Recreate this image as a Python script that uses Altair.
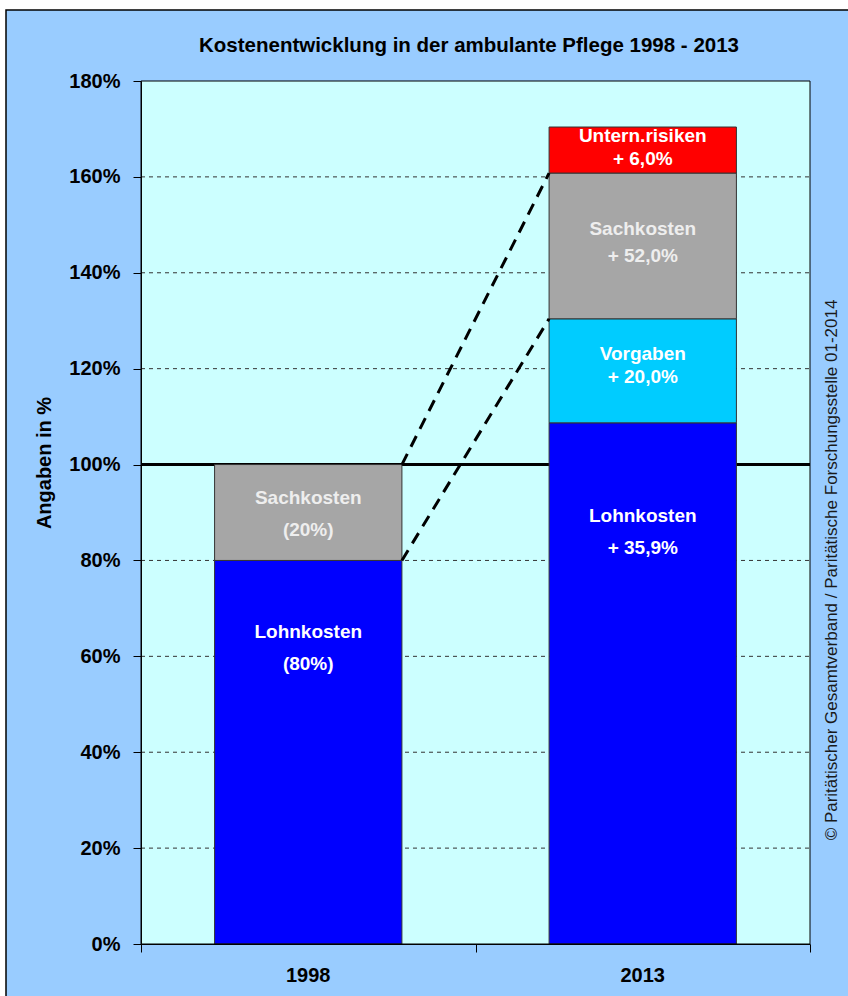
import altair as alt
import pandas as pd

# ---- data ---------------------------------------------------------------
years = ["1998", "2013"]

seg_year = ["1998", "1998", "2013", "2013", "2013", "2013"]
seg_name = ["Lohnkosten", "Sachkosten", "Lohnkosten", "Vorgaben", "Sachkosten", "Untern.risiken"]
seg_value = [80.0, 20.0, 108.7, 21.7, 30.4, 9.6]
seg_text = [
    "Lohnkosten\n(80%)",
    "Sachkosten\n(20%)",
    "Lohnkosten\n+ 35,9%",
    "Vorgaben\n+ 20,0%",
    "Sachkosten\n+ 52,0%",
    "Untern.risiken\n+ 6,0%",
]
# vertical anchor of the first text line of each box (in % units)
label_at = [65.1, 93.0, 89.3, 123.1, 149.1, 168.5]

y_ticks = [0, 20, 40, 60, 80, 100, 120, 140, 160, 180]
grid_lines = [20, 40, 60, 80, 120, 140, 160]
reference_level = [100]

# ---- layout / style ------------------------------------------------------
W, H = 669, 863
PAD = {"left": 141, "top": 81, "right": 38, "bottom": 52}
HALF = 0.28  # half bar width in category units
FONT = "Liberation Sans"

names = ["Lohnkosten", "Sachkosten", "Vorgaben", "Untern.risiken"]
fills = ["#0000FF", "#A6A6A6", "#00CCFF", "#FF0000"]

# ---- tables ----------------------------------------------------------------
seg = pd.DataFrame({"year": seg_year, "name": seg_name, "value": seg_value,
                    "text": seg_text, "label_at": label_at})
seg["row"] = range(len(seg))
seg["idx"] = seg["year"].map({y: i for i, y in enumerate(years)})
seg["y1"] = seg.groupby("year")["value"].cumsum()
seg["y0"] = seg["y1"] - seg["value"]
seg["xc"] = seg["idx"] + 0.5
seg["x0"] = seg["xc"] - HALF
seg["x1"] = seg["xc"] + HALF

# dashed connectors: Sachkosten block 1998 -> Sachkosten block 2013
s98 = seg[(seg.year == "1998") & (seg.name == "Sachkosten")].iloc[0]
s13 = seg[(seg.year == "2013") & (seg.name == "Sachkosten")].iloc[0]
conn = pd.DataFrame({
    "xa": [s98.x1, s98.x1], "ya": [s98.y1, s98.y0],
    "xb": [s13.x0, s13.x0], "yb": [s13.y1, s13.y0],
})

cats = pd.DataFrame({"year": years, "xc": [i + 0.5 for i in range(len(years))]})
grid_df = pd.DataFrame({"v": grid_lines})
ref_df = pd.DataFrame({"v": reference_level})
one = pd.DataFrame({"k": [0]})

xscale = alt.Scale(domain=[0, 2], nice=False, zero=False)
yscale = alt.Scale(domain=[0, 180], nice=False)
xaxis = alt.Axis(values=[0, 1, 2], labels=False, tickSize=8, tickColor="black",
                 domainColor="black", grid=False, title=None, zindex=1)
yaxis = alt.Axis(values=y_ticks, labelExpr="datum.value + '%'", labelFont=FONT,
                 labelFontSize=20, labelFontWeight="bold", labelColor="black",
                 labelPadding=13, tickSize=8, tickColor="black",
                 domainColor="black", grid=False, title=None, zindex=1)


def X(f):
    return alt.X(f, type="quantitative", scale=xscale, axis=xaxis)


def Y(f):
    return alt.Y(f, type="quantitative", scale=yscale, axis=yaxis)


# ---- layers --------------------------------------------------------------
frame = alt.Chart(one).mark_rect(fill="#99CCFF", stroke="black", strokeWidth=1.5).encode(
    x=alt.value(6 - PAD["left"]), x2=alt.value(W + PAD["right"] + 20),
    y=alt.value(10 - PAD["top"]), y2=alt.value(H + PAD["bottom"] + 20))

plot_bg = alt.Chart(one).mark_rect(fill="#CCFFFF").encode(
    x=alt.value(0), x2=alt.value(W), y=alt.value(0), y2=alt.value(H))

grid = alt.Chart(grid_df).mark_rule(color="#333333", strokeWidth=1, strokeDash=[4, 4]).encode(
    y=Y("v"), x=alt.value(0), x2=alt.value(W))

ref = alt.Chart(ref_df).mark_rule(color="black", strokeWidth=3).encode(
    y=Y("v"), x=alt.value(0), x2=alt.value(W))

bars = alt.Chart(seg).mark_rect(stroke="#333333", strokeWidth=1).encode(
    x=X("x0"), x2="x1", y=Y("y0"), y2="y1",
    color=alt.Color("name:N", scale=alt.Scale(domain=names, range=fills), legend=None))

connectors = alt.Chart(conn).mark_rule(color="black", strokeWidth=3, strokeDash=[12, 8]).encode(
    x=X("xa"), x2="xb", y=Y("ya"), y2="yb")

label_color = alt.condition("datum.name == 'Sachkosten'", alt.value("#EEEEEE"), alt.value("white"))


def label_layer(test, line_height):
    return alt.Chart(seg).transform_filter(test).mark_text(
        font=FONT, fontSize=19, fontWeight="bold", lineBreak="\n",
        lineHeight=line_height, baseline="middle", align="center").encode(
        x=X("xc"), y=Y("label_at"), text="text:N", color=label_color)


labels_wide = label_layer("datum.row < 3", 32)
labels_mid = label_layer("datum.row == 4", 27)
labels_tight = label_layer("datum.row == 3 || datum.row == 5", 23)

cat_labels = alt.Chart(cats).mark_text(
    font=FONT, fontSize=20, fontWeight="bold", color="black", baseline="middle").encode(
    x=X("xc"), y=alt.value(H + 32), text="year:N")

title = alt.Chart(one).mark_text(
    font=FONT, fontSize=20.5, fontWeight="bold", color="black",
    baseline="alphabetic", align="center").encode(
    x=alt.value(328), y=alt.value(-29),
    text=alt.value("Kostenentwicklung in der ambulante Pflege 1998 - 2013"))

y_title = alt.Chart(one).mark_text(
    font=FONT, fontSize=20, fontWeight="bold", color="black",
    baseline="middle", align="center", angle=270).encode(
    x=alt.value(-96), y=alt.value(382), text=alt.value("Angaben in %"))

credit = alt.Chart(one).mark_text(
    font=FONT, fontSize=17, color="#1a1a1a",
    baseline="middle", align="center", angle=270).encode(
    x=alt.value(691), y=alt.value(489),
    text=alt.value("© Paritätischer Gesamtverband / Paritätische Forschungsstelle 01-2014"))

border = alt.Chart(one).mark_rect(fillOpacity=0, stroke="black", strokeWidth=1).encode(
    x=alt.value(0), x2=alt.value(W), y=alt.value(0), y2=alt.value(H))

chart = alt.layer(
    frame, plot_bg, grid, ref, bars, connectors, labels_wide, labels_mid, labels_tight,
    cat_labels, title, y_title, credit, border
).properties(
    width=W, height=H, padding=PAD,
    autosize=alt.AutoSizeParams(type="none"),
    background="white",
).configure_view(stroke=None)

chart.save("out.html", embed_options={"renderer": "svg", "actions": False})
